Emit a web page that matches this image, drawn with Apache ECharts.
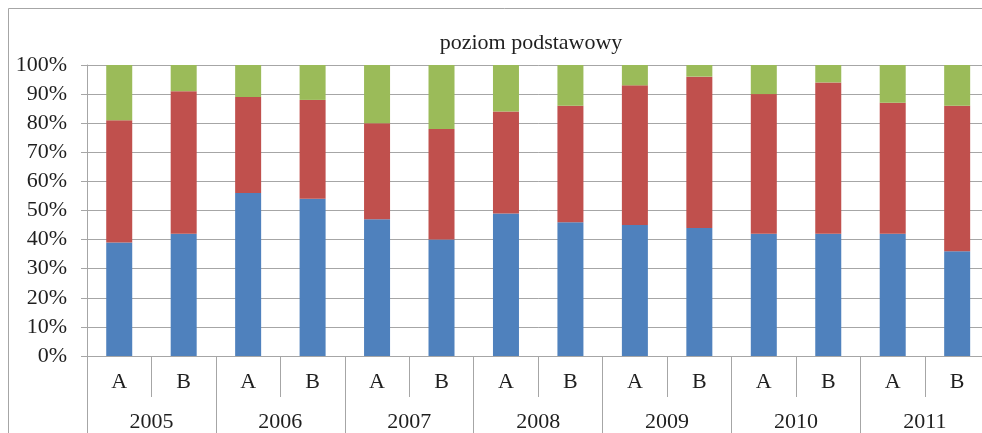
<!DOCTYPE html>
<html>
<head>
<meta charset="utf-8">
<script src="https://cdn.jsdelivr.net/npm/echarts@6/dist/echarts.min.js"></script>
<style>
  html, body { margin: 0; padding: 0; overflow: hidden; background: #fff; }
  #chart { width: 1000px; height: 433px; }
</style>
</head>
<body>
<div id="chart"></div>
<script>
const years = ['2005', '2006', '2007', '2008', '2009', '2010', '2011'];
const groups = ['A', 'B'];
const yTicks = [0, 10, 20, 30, 40, 50, 60, 70, 80, 90, 100];

// udział procentowy (dół -> góra)
const blueValues = [39, 42, 56, 54, 47, 40, 49, 46, 45, 44, 42, 42, 42, 36];
const redValues = [42, 49, 33, 34, 33, 38, 35, 40, 48, 52, 48, 52, 45, 50];
const greenValues = [19, 9, 11, 12, 20, 22, 16, 14, 7, 4, 10, 6, 13, 14];

const categories = [];
years.forEach(() => groups.forEach(g => categories.push(g)));

const font = '"Liberation Serif", "Times New Roman", serif';
const textColor = '#1f1f1f';
const lineColor = '#a6a6a6';

const chart = echarts.init(document.getElementById('chart'));

const barSeries = (name, data, color) => ({
  name: name,
  type: 'bar',
  stack: 'total',
  xAxisIndex: 0,
  barWidth: 26,
  itemStyle: { color: color },
  data: data
});

chart.setOption({
  animation: false,
  title: {
    text: 'poziom podstawowy',
    left: 526,
    top: 27,
    textAlign: 'center',
    textStyle: { fontFamily: font, fontSize: 22, fontWeight: 'normal', color: textColor }
  },
  // ramka wykresu (lewa i górna krawędź widoczne w kadrze)
  graphic: [{
    type: 'polyline',
    shape: { points: [[8.5, 440], [8.5, 8.5], [1000, 8.5]] },
    style: { fill: 'none', stroke: lineColor, lineWidth: 1 },
    silent: true
  }],
  grid: { left: 87, right: 10.6, top: 65, bottom: 77 },
  xAxis: [
    {
      type: 'category',
      data: categories,
      axisLine: { show: true, lineStyle: { color: lineColor } },
      axisTick: { show: true, interval: 0, length: 41, lineStyle: { color: lineColor } },
      axisLabel: { interval: 0, margin: 15, fontFamily: font, fontSize: 22, color: textColor }
    },
    {
      type: 'category',
      data: years,
      position: 'bottom',
      axisLine: { show: false },
      axisTick: { show: true, interval: 0, length: 90, lineStyle: { color: lineColor } },
      axisLabel: { interval: 0, margin: 55, fontFamily: font, fontSize: 22, color: textColor }
    }
  ],
  yAxis: {
    type: 'value',
    min: yTicks[0],
    max: yTicks[yTicks.length - 1],
    interval: yTicks[1] - yTicks[0],
    axisLine: { show: true, lineStyle: { color: lineColor } },
    axisTick: { show: true, length: 6, lineStyle: { color: lineColor } },
    splitLine: { lineStyle: { color: lineColor } },
    axisLabel: { margin: 20, formatter: '{value}%', fontFamily: font, fontSize: 22, color: textColor }
  },
  series: [
    barSeries('seria 1', blueValues, '#4f81bd'),
    barSeries('seria 2', redValues, '#c0504d'),
    barSeries('seria 3', greenValues, '#9bbb59')
  ]
});
</script>
</body>
</html>
